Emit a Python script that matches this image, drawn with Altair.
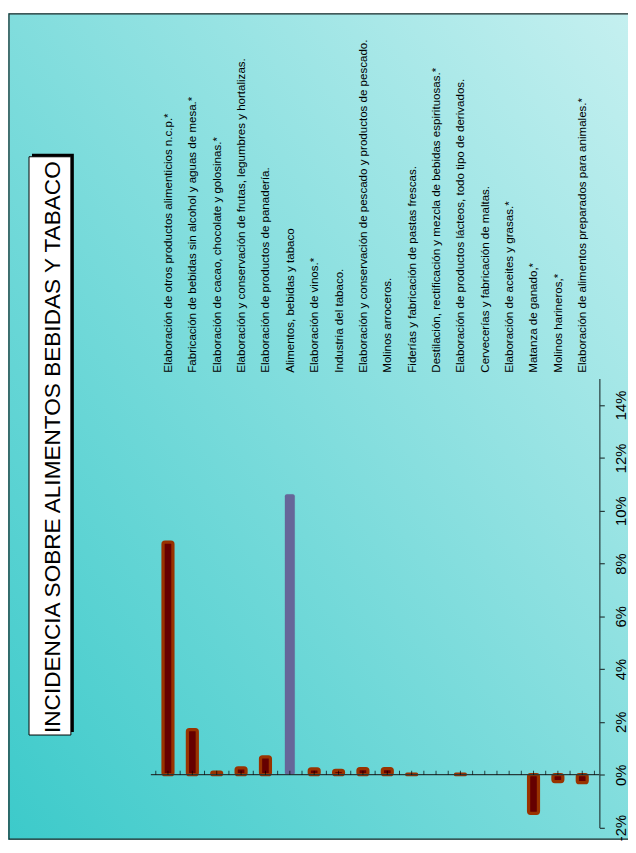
import altair as alt
import pandas as pd

# ---------------- data ----------------
categories = [
    "Elaboración de otros productos alimenticios n.c.p.*",
    "Fabricación de bebidas sin alcohol y aguas de mesa.*",
    "Elaboración de cacao, chocolate y golosinas.*",
    "Elaboración y conservación de frutas, legumbres y hortalizas.",
    "Elaboración de productos de panadería.",
    "Alimentos, bebidas y tabaco",
    "Elaboración de vinos.*",
    "Industria del tabaco.",
    "Elaboración y conservación de pescado y productos de pescado.",
    "Molinos arroceros.",
    "Fiderías y fabricación de pastas frescas.",
    "Destilación, rectificación y mezcla de bebidas espirituosas.*",
    "Elaboración de productos lácteos, todo tipo de derivados.",
    "Cervecerías y fabricación de maltas.",
    "Elaboración de aceites y grasas.*",
    "Matanza de ganado,*",
    "Molinos harineros,*",
    "Elaboración de alimentos preparados para animales.*",
]
values = [8.81, 1.71, 0.10, 0.26, 0.68, 10.62, 0.22, 0.16, 0.23, 0.23,
          0.02, None, 0.02, None, None, -1.46, -0.26, -0.30]
kinds = ["rama"] * 5 + ["total"] + ["rama"] * 12
y_ticks = [-2, 0, 2, 4, 6, 8, 10, 12, 14]
title_text = "INCIDENCIA SOBRE ALIMENTOS BEBIDAS Y TABACO"

# ---------------- layout ----------------
W, H = 628, 837
SANS = "Liberation Sans, Arial, sans-serif"
AXIS_COLOR = "#263a3a"

df = pd.DataFrame({
    "cat": categories,
    "value": values,
    "kind": kinds,
    "pos": [i + 0.5 for i in range(len(categories))],
})
ticks_df = pd.DataFrame({"pos": [k * 0.5 for k in range(2 * len(categories) + 1)]})
one = pd.DataFrame({"a": [0]})

xscale = alt.Scale(domain=[0, len(categories)], range=[144.7, 599])
yscale = alt.Scale(domain=[-2, 15], range=[824.7, 370], nice=False, zero=False)

bg = alt.Chart(one).mark_rect(
    fill=alt.Gradient(
        gradient="linear",
        stops=[alt.GradientStop(color="#3ccaca", offset=0),
               alt.GradientStop(color="#c6f0f0", offset=1)],
        x1=0, y1=1, x2=1, y2=0,
    )
).encode(x=alt.value(0), x2=alt.value(W + 10), y=alt.value(0), y2=alt.value(H))

frame = alt.Chart(one).mark_rect(fillOpacity=0, stroke="#1e2a2a", strokeWidth=1.2).encode(
    x=alt.value(1), x2=alt.value(W + 10), y=alt.value(0.6), y2=alt.value(H - 0.6)
)

shadow = alt.Chart(one).mark_rect(fill="black").encode(
    x=alt.value(24.3), x2=alt.value(66.7), y=alt.value(142.3), y2=alt.value(728)
)
tbox = alt.Chart(one).mark_rect(fill="white", stroke="black", strokeWidth=1).encode(
    x=alt.value(21.3), x2=alt.value(63.7), y=alt.value(145.3), y2=alt.value(731)
)
ttext = alt.Chart(one).mark_text(
    text=title_text, angle=270, align="center", baseline="alphabetic",
    font=SANS, fontSize=22.9, color="black",
).encode(x=alt.value(52.3), y=alt.value(439.4))

bars = alt.Chart(df).mark_bar(width=10, cornerRadius=2).encode(
    x=alt.X("pos:Q", scale=xscale, axis=None),
    y=alt.Y("value:Q", scale=yscale,
            axis=alt.Axis(orient="right", offset=-29, values=y_ticks,
                          labelExpr="datum.value + '%'", tickSize=5,
                          tickColor=AXIS_COLOR, domainColor=AXIS_COLOR,
                          tickWidth=1.2, domainWidth=1.2, zindex=2,
                          labelAngle=270, labelAlign="center", labelBaseline="middle",
                          labelPadding=16, labelFont=SANS, labelFontSize=15,
                          labelColor="black", labelOverlap=False, grid=False, title=None)),
    y2=alt.datum(0),
    fill=alt.Fill("kind:N", scale=alt.Scale(domain=["rama", "total"],
                                            range=["#660000", "#666699"]), legend=None),
    stroke=alt.Stroke("kind:N", scale=alt.Scale(domain=["rama", "total"],
                                                range=["#993300", "#666699"]), legend=None),
    strokeWidth=alt.StrokeWidth("kind:N", scale=alt.Scale(domain=["rama", "total"],
                                                          range=[3.3, 0.1]), legend=None),
)

zero_line = alt.Chart(one).mark_rule(color=AXIS_COLOR, strokeWidth=1.2).encode(
    x=alt.value(144.7), x2=alt.value(599), y=alt.Y(datum=0, scale=yscale)
)

ticks = alt.Chart(ticks_df).mark_tick(
    orient="vertical", size=4, thickness=1, color="black", yOffset=-2
).encode(x=alt.X("pos:Q", scale=xscale, axis=None), y=alt.Y(datum=0, scale=yscale))

labels = alt.Chart(df).mark_text(
    angle=270, align="left", baseline="middle", font=SANS, fontSize=11.7, color="black"
).encode(x=alt.X("pos:Q", scale=xscale, axis=None), y=alt.value(364), text="cat:N")

chart = alt.layer(bg, frame, shadow, tbox, ttext, bars, zero_line, ticks, labels).properties(
    width=W, height=H,
    autosize=alt.AutoSizeParams(type="none"),
    padding=0,
).configure_view(stroke=None)

chart.save("out.html", embed_options={"renderer": "svg", "actions": False})
